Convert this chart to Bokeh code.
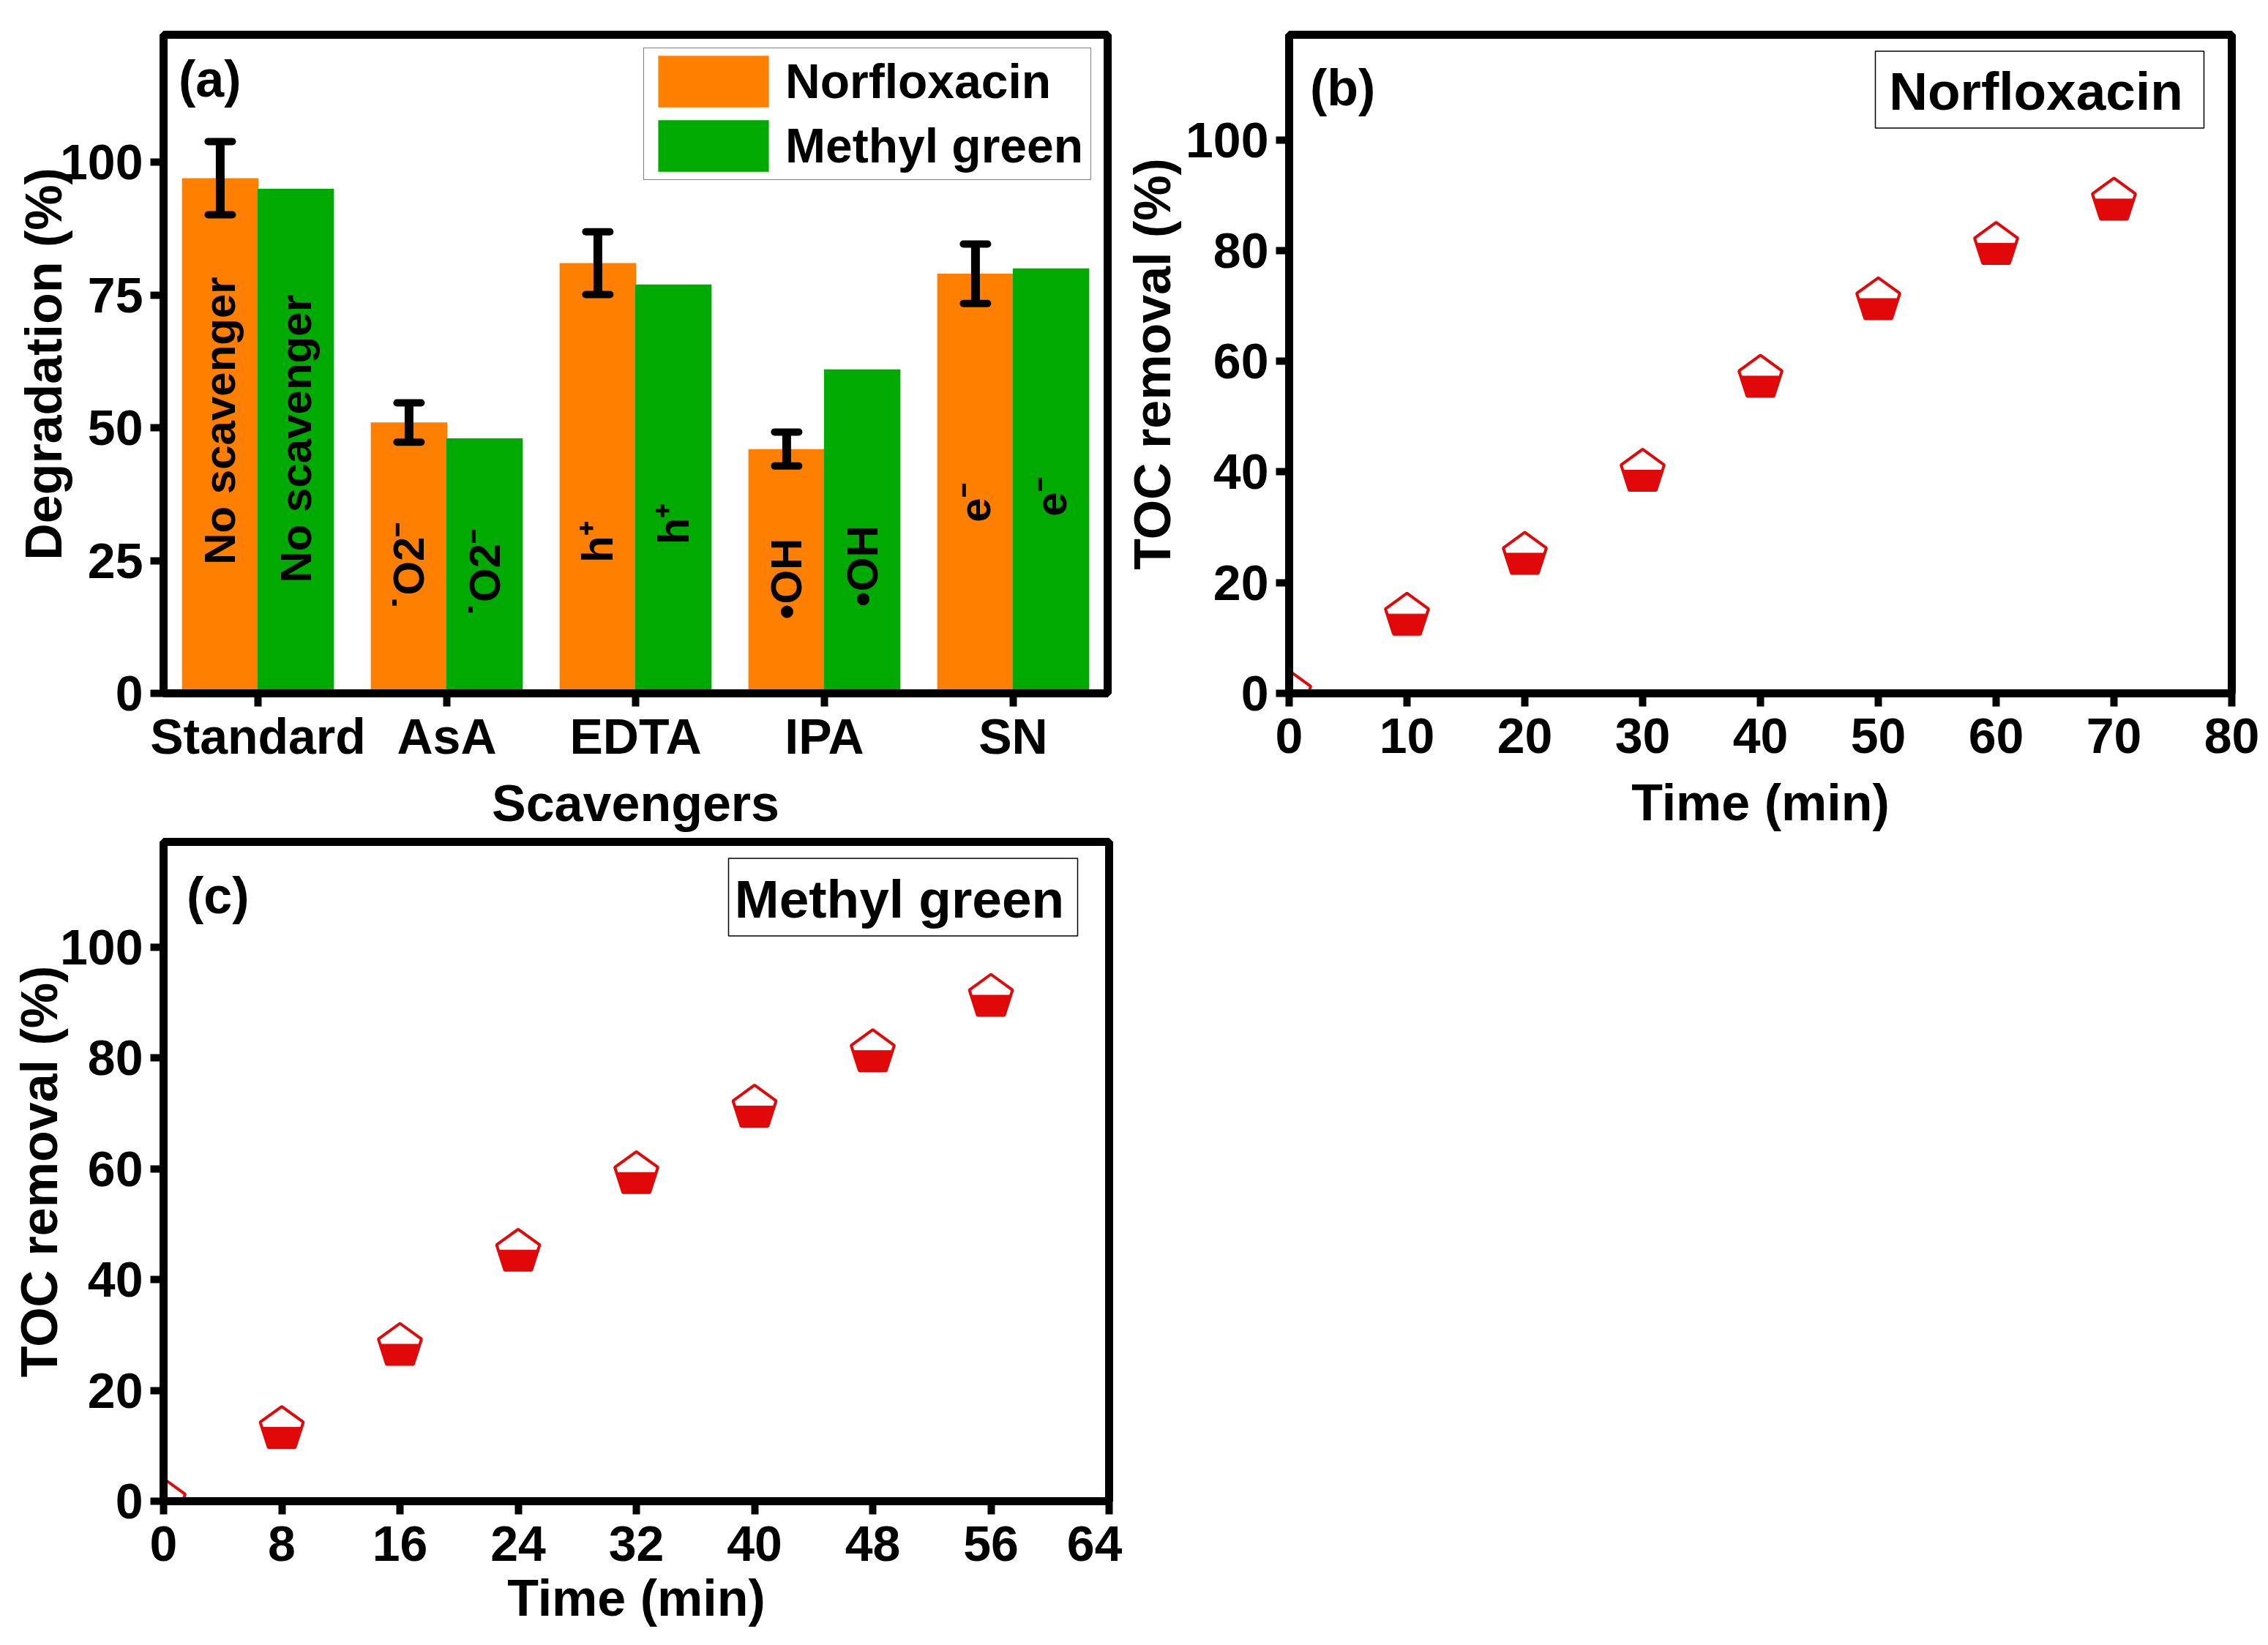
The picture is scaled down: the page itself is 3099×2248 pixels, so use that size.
import numpy as np
from bokeh.plotting import figure
from bokeh.models import (ColumnDataSource, FactorRange, Range1d, FixedTicker,
                          Whisker, TeeHead, Legend, LegendItem, Label)
from bokeh.transform import dodge
from bokeh.layouts import column, row
from bokeh.embed import file_html
from bokeh.resources import INLINE
from bokeh.core.properties import value

# ---------------- data ----------------
scavengers = ["Standard", "AsA", "EDTA", "IPA", "SN"]
norfloxacin_deg = [97, 51, 81, 46, 79]
norfloxacin_err = [6.9, 3.7, 5.9, 3.2, 5.6]
methyl_green_deg = [95, 48, 77, 61, 80]
species = ["No scavenger", "˙O2⁻", "h⁺", "•OH", "e⁻"]
y_ticks_a = [0, 25, 50, 75, 100]

time_nor = [0, 10, 20, 30, 40, 50, 60, 70]
toc_nor = [0, 14, 25, 40, 57, 71, 81, 89]
time_mg = [0, 8, 16, 24, 32, 40, 48, 56]
toc_mg = [0, 13, 28, 45, 59, 71, 81, 91]
x_ticks_b = [0, 10, 20, 30, 40, 50, 60, 70, 80]
x_ticks_c = [0, 8, 16, 24, 32, 40, 48, 56, 64]
y_ticks_bc = [0, 20, 40, 60, 80, 100]

# heights (data units) where the in-bar species labels start
label_y_nor = [24.2, 15.7, 24.6, 13.9, 32.2]
label_y_mg = [20.8, 14.4, 28.0, 16.3, 33.3]

# ---------------- style ----------------
FONT = "Liberation Sans"
ORANGE = "#FF8000"
GREEN = "#00AA00"
RED = "#E00808"

YR_A = (0, 124)
YR_BC = (0, 119)
XR_B = (0, 80)
XR_C = (0, 64)
FW_A, FH_A = 1290, 900
FW_B, FH_B = 1288, 900
FW_C, FH_C = 1292, 901


def style(p, xlabel, ylabel, x_label_standoff, x_title_standoff, y_title_standoff):
    p.outline_line_color = "black"
    p.outline_line_width = 11
    p.grid.visible = False
    p.background_fill_color = "white"
    p.border_fill_color = "white"
    for ax in p.axis:
        ax.axis_line_width = 11
        ax.axis_line_color = "black"
        ax.major_tick_line_width = 10
        ax.major_tick_line_color = "black"
        ax.major_tick_out = 18
        ax.major_tick_in = 0
        ax.minor_tick_line_color = None
        ax.major_label_text_font = FONT
        ax.major_label_text_font_style = "bold"
        ax.major_label_text_font_size = "68px"
        ax.major_label_text_color = "black"
        ax.axis_label_text_font = FONT
        ax.axis_label_text_font_style = "bold"
        ax.axis_label_text_font_size = "70px"
        ax.axis_label_text_color = "black"
    p.xaxis.axis_label = xlabel
    p.yaxis.axis_label = ylabel
    p.xaxis.major_label_standoff = x_label_standoff
    p.yaxis.major_label_standoff = 10
    p.xaxis.axis_label_standoff = x_title_standoff
    p.yaxis.axis_label_standoff = y_title_standoff


def frame_pt(dx_px, dy_px, xr, yr, fw, fh, from_right=False):
    """convert pixel offsets measured from the frame's top-left (or top-right) to data units"""
    sx = (xr[1] - xr[0]) / fw
    sy = (yr[1] - yr[0]) / fh
    x = xr[1] - dx_px * sx if from_right else xr[0] + dx_px * sx
    return x, yr[1] - dy_px * sy


def add_pentagons(p, xs, ys, xr, yr, fw, fh, R=31.0, level=0.08):
    sx = fw / (xr[1] - xr[0])
    sy = fh / (yr[1] - yr[0])
    ang = np.deg2rad(90 + 72 * np.arange(5))
    vx = R * np.cos(ang)
    vy = R * np.sin(ang)
    h = level * R
    t = (vy[1] - h) / (vy[1] - vy[2])
    xl = vx[1] + t * (vx[2] - vx[1])
    lx = np.array([xl, vx[2], vx[3], -xl])
    ly = np.array([h, vy[2], vy[3], h])
    out_x = [list(x + vx / sx) for x in xs]
    out_y = [list(y + vy / sy) for y in ys]
    low_x = [list(x + lx / sx) for x in xs]
    low_y = [list(y + ly / sy) for y in ys]
    p.patches(out_x, out_y, fill_color="white", line_color=RED, line_width=4)
    p.patches(low_x, low_y, fill_color=RED, line_color=RED, line_width=1)


def panel_letter(p, text, dx, dy, xr, yr, fw, fh):
    x, y = frame_pt(dx, dy, xr, yr, fw, fh)
    p.add_layout(Label(x=x, y=y, text=text, text_font=FONT, text_font_style="bold",
                       text_font_size="70px", text_color="black",
                       text_align="left", text_baseline="middle"))


def name_box(p, text, box_px, xr, yr, fw, fh):
    l, t = frame_pt(box_px[0], box_px[2], xr, yr, fw, fh, from_right=True)
    r, b = frame_pt(box_px[1], box_px[3], xr, yr, fw, fh, from_right=True)
    p.quad(left=[l], right=[r], top=[t], bottom=[b], fill_color="white",
           line_color="black", line_width=1.5)
    tx, ty = frame_pt(0.5 * (box_px[0] + box_px[1]) + 5, 0.5 * (box_px[2] + box_px[3]) + 2,
                      xr, yr, fw, fh, from_right=True)
    p.text(x=[tx], y=[ty], text=[text], text_font=value(FONT), text_font_style="bold",
           text_font_size="73px", text_color="black", text_align="center",
           text_baseline="middle")


# ---------------- panel (a) ----------------
pa = figure(x_range=FactorRange(factors=scavengers), y_range=Range1d(*YR_A),
            frame_width=FW_A, frame_height=FH_A,
            min_border_left=223, min_border_right=20, min_border_top=47, min_border_bottom=195,
            output_backend="svg", toolbar_location=None)

src = ColumnDataSource(dict(cat=scavengers, nor=norfloxacin_deg, mg=methyl_green_deg,
                            upper=[v + e for v, e in zip(norfloxacin_deg, norfloxacin_err)],
                            lower=[v - e for v, e in zip(norfloxacin_deg, norfloxacin_err)],
                            lab=species, ly_nor=label_y_nor, ly_mg=label_y_mg))

rn = pa.vbar(x=dodge("cat", -0.2, range=pa.x_range), top="nor", width=0.405, source=src,
             fill_color=ORANGE, line_color=None)
rm = pa.vbar(x=dodge("cat", 0.2, range=pa.x_range), top="mg", width=0.405, source=src,
             fill_color=GREEN, line_color=None)

wh = Whisker(source=src, base=dodge("cat", -0.2, range=pa.x_range), upper="upper", lower="lower",
             line_width=12, line_color="black", level="annotation",
             upper_head=TeeHead(size=33, line_width=10, line_color="black", line_cap="round"),
             lower_head=TeeHead(size=33, line_width=10, line_color="black", line_cap="round"))
pa.add_layout(wh)

for off, col in ((-0.2, "ly_nor"), (0.2, "ly_mg")):
    pa.text(x=dodge("cat", off, range=pa.x_range), y=col, text="lab", source=src,
            angle=np.pi / 2, text_align="left", text_baseline="middle",
            text_font=value(FONT), text_font_style="bold", text_font_size="60px",
            text_color="black")

style(pa, "Scavengers", "Degradation (%)", 2, 12, -20)
pa.yaxis.ticker = FixedTicker(ticks=y_ticks_a)

legend = Legend(items=[LegendItem(label="Norfloxacin", renderers=[rn]),
                       LegendItem(label="Methyl green", renderers=[rm])],
                location=(656, 701), orientation="vertical",
                glyph_width=189, glyph_height=88,
                padding=dict(left=0, right=10, top=1, bottom=2), spacing=0,
                label_standoff=4, margin=0,
                label_text_font=FONT, label_text_font_style="bold",
                label_text_font_size="66px", label_text_color="black",
                border_line_color="black", border_line_width=1.5,
                background_fill_color="white", background_fill_alpha=1.0)
pa.add_layout(legend)

panel_letter(pa, "(a)", 20.5, 60.5, (0, len(scavengers)), YR_A, FW_A, FH_A)

# ---------------- panel (b) ----------------
pb = figure(x_range=Range1d(*XR_B), y_range=Range1d(*YR_BC),
            frame_width=FW_B, frame_height=FH_B,
            min_border_left=223, min_border_right=40, min_border_top=47, min_border_bottom=240,
            output_backend="svg", toolbar_location=None)
add_pentagons(pb, time_nor, toc_nor, XR_B, YR_BC, FW_B, FH_B)
style(pb, "Time (min)", "TOC removal (%)", 16, 26, 3)
pb.xaxis.ticker = FixedTicker(ticks=x_ticks_b)
pb.yaxis.ticker = FixedTicker(ticks=y_ticks_bc)
panel_letter(pb, "(b)", 28.5, 72.5, XR_B, YR_BC, FW_B, FH_B)
name_box(pb, "Norfloxacin", (487, 38, 22.5, 127.5), XR_B, YR_BC, FW_B, FH_B)

# ---------------- panel (c) ----------------
pc = figure(x_range=Range1d(*XR_C), y_range=Range1d(*YR_BC),
            frame_width=FW_C, frame_height=FH_C,
            min_border_left=219, min_border_right=22, min_border_top=8, min_border_bottom=190,
            output_backend="svg", toolbar_location=None)
add_pentagons(pc, time_mg, toc_mg, XR_C, YR_BC, FW_C, FH_C)
style(pc, "Time (min)", "TOC removal (%)", 16, 9, -14)
pc.xaxis.ticker = FixedTicker(ticks=x_ticks_c)
pc.yaxis.ticker = FixedTicker(ticks=y_ticks_bc)
panel_letter(pc, "(c)", 31.5, 73.5, XR_C, YR_BC, FW_C, FH_C)
name_box(pc, "Methyl green", (520, 43, 22.5, 128.5), XR_C, YR_BC, FW_C, FH_C)

layout = row(column(pa, pc), pb)
open("out.html", "w").write(file_html(layout, INLINE))
